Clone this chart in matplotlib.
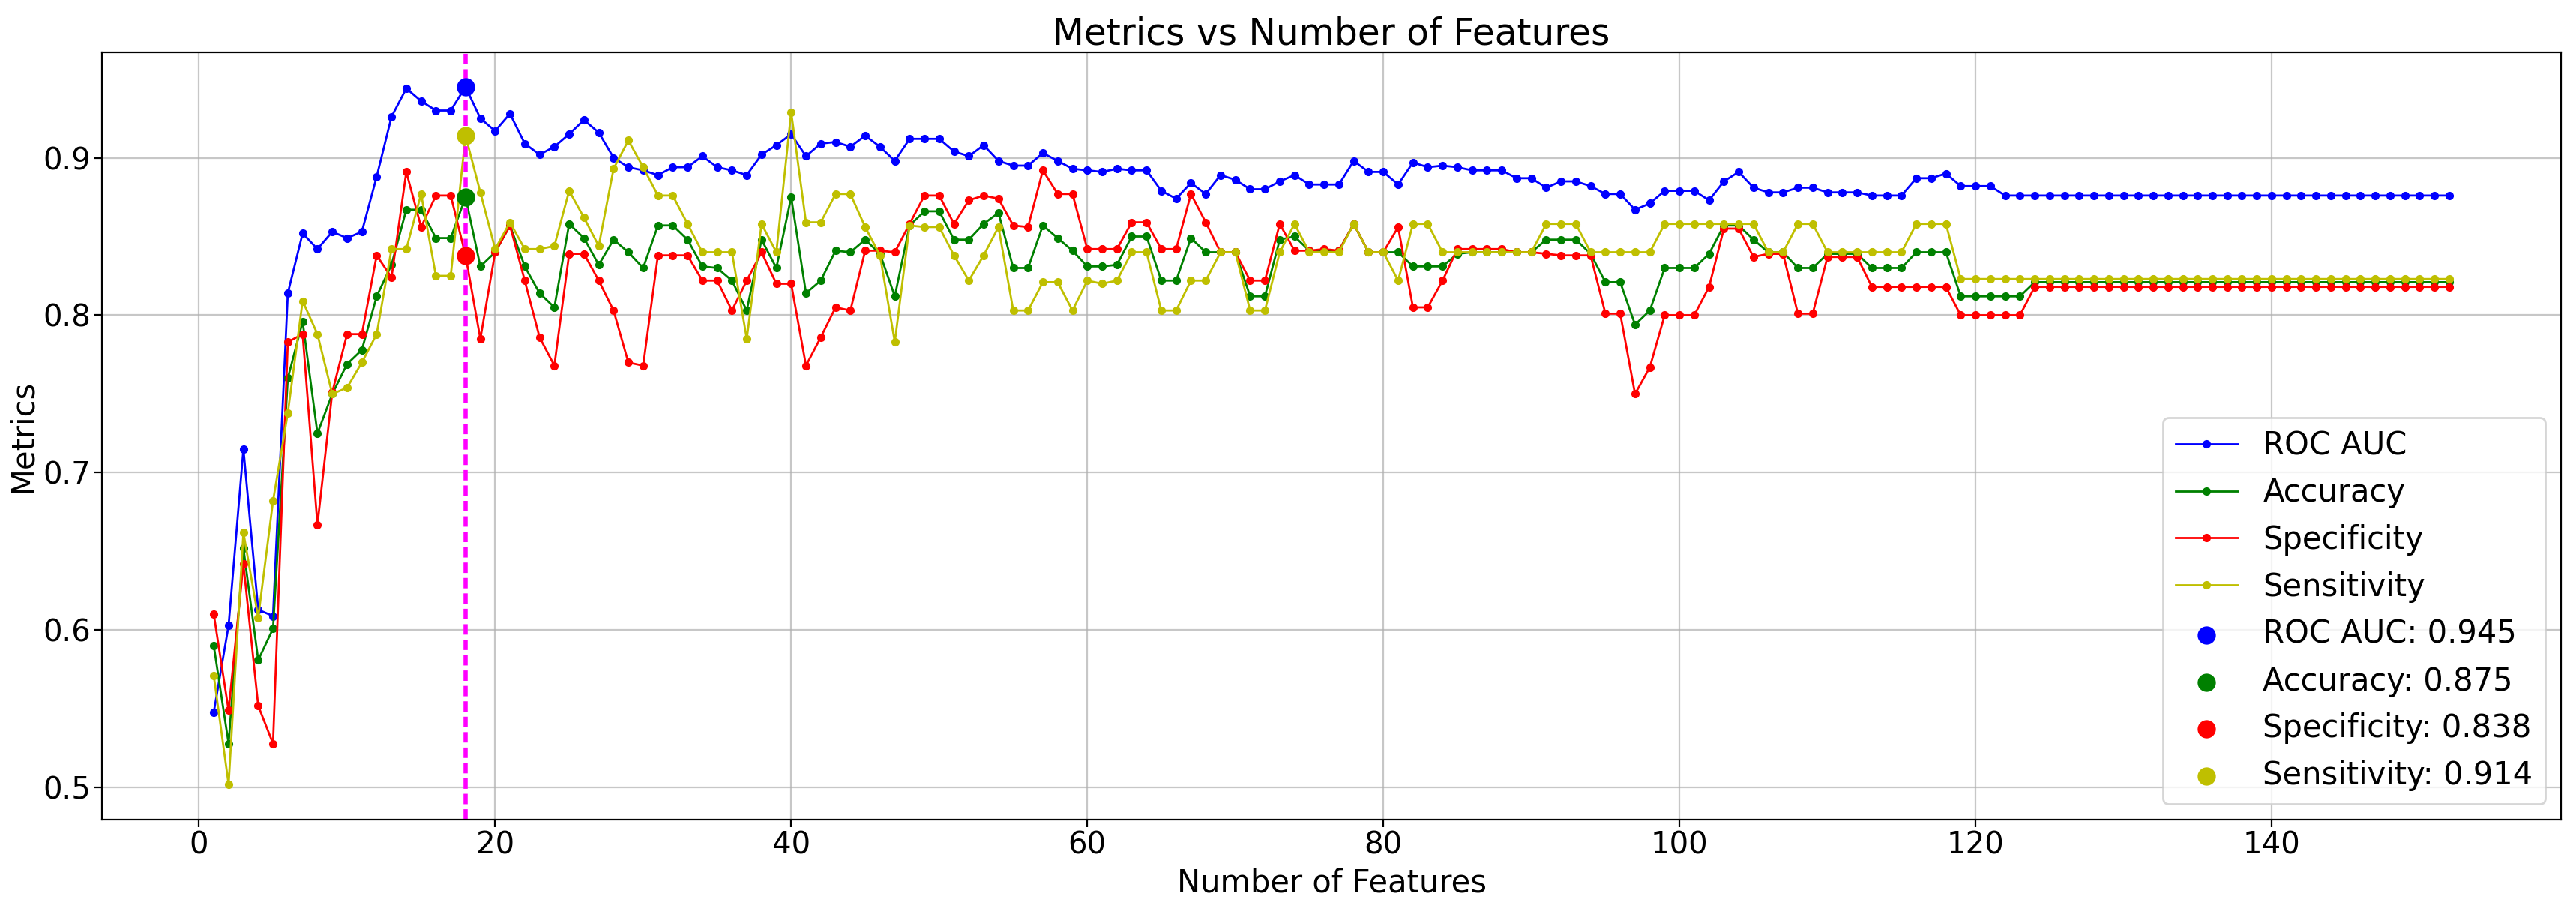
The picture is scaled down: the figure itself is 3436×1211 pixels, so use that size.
import numpy as np
import matplotlib
matplotlib.use("Agg")
from matplotlib import pyplot as plt

# values, feature counts 1..152
n_features = np.arange(1, 153)

roc_auc = [
    0.548, 0.603, 0.715, 0.613, 0.609, 0.814, 0.852, 0.842, 0.853, 0.849,
    0.853, 0.888, 0.926, 0.944, 0.936, 0.930, 0.930, 0.945, 0.925, 0.917,
    0.928, 0.909, 0.902, 0.907, 0.915, 0.924, 0.916, 0.900, 0.894, 0.892,
    0.889, 0.894, 0.894, 0.901, 0.894, 0.892, 0.889, 0.902, 0.908, 0.915,
    0.901, 0.909, 0.910, 0.907, 0.914, 0.907, 0.898, 0.912, 0.912, 0.912,
    0.904, 0.901, 0.908, 0.898, 0.895, 0.895, 0.903, 0.898, 0.893, 0.892,
    0.891, 0.893, 0.892, 0.892, 0.879, 0.874, 0.884, 0.877, 0.889, 0.886,
    0.880, 0.880, 0.885, 0.889, 0.883, 0.883, 0.883, 0.898, 0.891, 0.891,
    0.883, 0.897, 0.894, 0.895, 0.894, 0.892, 0.892, 0.892, 0.887, 0.887,
    0.881, 0.885, 0.885, 0.882, 0.877, 0.877, 0.867, 0.871, 0.879, 0.879,
    0.879, 0.873, 0.885, 0.891, 0.881, 0.878, 0.878, 0.881, 0.881, 0.878,
    0.878, 0.878, 0.876, 0.876, 0.876, 0.887, 0.887, 0.890, 0.882, 0.882,
    0.882, 0.876, 0.876, 0.876, 0.876, 0.876, 0.876, 0.876, 0.876, 0.876,
    0.876, 0.876, 0.876, 0.876, 0.876, 0.876, 0.876, 0.876, 0.876, 0.876,
    0.876, 0.876, 0.876, 0.876, 0.876, 0.876, 0.876, 0.876, 0.876, 0.876,
    0.876, 0.876,
]

accuracy = [
    0.590, 0.528, 0.652, 0.581, 0.601, 0.760, 0.796, 0.725, 0.750, 0.769,
    0.778, 0.812, 0.832, 0.867, 0.867, 0.849, 0.849, 0.875, 0.831, 0.840,
    0.857, 0.831, 0.814, 0.805, 0.858, 0.849, 0.832, 0.848, 0.840, 0.830,
    0.857, 0.857, 0.848, 0.831, 0.830, 0.822, 0.803, 0.848, 0.830, 0.875,
    0.814, 0.822, 0.841, 0.840, 0.848, 0.839, 0.812, 0.857, 0.866, 0.866,
    0.848, 0.848, 0.858, 0.865, 0.830, 0.830, 0.857, 0.849, 0.841, 0.831,
    0.831, 0.832, 0.850, 0.850, 0.822, 0.822, 0.849, 0.840, 0.840, 0.840,
    0.812, 0.812, 0.848, 0.850, 0.841, 0.841, 0.841, 0.858, 0.840, 0.840,
    0.840, 0.831, 0.831, 0.831, 0.839, 0.840, 0.840, 0.840, 0.840, 0.840,
    0.848, 0.848, 0.848, 0.839, 0.821, 0.821, 0.794, 0.803, 0.830, 0.830,
    0.830, 0.839, 0.857, 0.857, 0.848, 0.840, 0.840, 0.830, 0.830, 0.839,
    0.839, 0.839, 0.830, 0.830, 0.830, 0.840, 0.840, 0.840, 0.812, 0.812,
    0.812, 0.812, 0.812, 0.821, 0.821, 0.821, 0.821, 0.821, 0.821, 0.821,
    0.821, 0.821, 0.821, 0.821, 0.821, 0.821, 0.821, 0.821, 0.821, 0.821,
    0.821, 0.821, 0.821, 0.821, 0.821, 0.821, 0.821, 0.821, 0.821, 0.821,
    0.821, 0.821,
]

specificity = [
    0.610, 0.549, 0.642, 0.552, 0.528, 0.783, 0.788, 0.667, 0.751, 0.788,
    0.788, 0.838, 0.824, 0.891, 0.856, 0.876, 0.876, 0.838, 0.785, 0.840,
    0.857, 0.822, 0.786, 0.768, 0.839, 0.839, 0.822, 0.803, 0.770, 0.768,
    0.838, 0.838, 0.838, 0.822, 0.822, 0.803, 0.822, 0.840, 0.820, 0.820,
    0.768, 0.786, 0.805, 0.803, 0.841, 0.841, 0.840, 0.858, 0.876, 0.876,
    0.858, 0.873, 0.876, 0.874, 0.857, 0.856, 0.892, 0.877, 0.877, 0.842,
    0.842, 0.842, 0.859, 0.859, 0.842, 0.842, 0.877, 0.859, 0.840, 0.840,
    0.822, 0.822, 0.858, 0.841, 0.841, 0.842, 0.841, 0.858, 0.840, 0.840,
    0.856, 0.805, 0.805, 0.822, 0.842, 0.842, 0.842, 0.842, 0.840, 0.840,
    0.839, 0.838, 0.838, 0.838, 0.801, 0.801, 0.750, 0.767, 0.800, 0.800,
    0.800, 0.818, 0.855, 0.855, 0.837, 0.839, 0.839, 0.801, 0.801, 0.837,
    0.837, 0.837, 0.818, 0.818, 0.818, 0.818, 0.818, 0.818, 0.800, 0.800,
    0.800, 0.800, 0.800, 0.818, 0.818, 0.818, 0.818, 0.818, 0.818, 0.818,
    0.818, 0.818, 0.818, 0.818, 0.818, 0.818, 0.818, 0.818, 0.818, 0.818,
    0.818, 0.818, 0.818, 0.818, 0.818, 0.818, 0.818, 0.818, 0.818, 0.818,
    0.818, 0.818,
]

sensitivity = [
    0.571, 0.502, 0.662, 0.608, 0.682, 0.738, 0.809, 0.788, 0.750, 0.754,
    0.770, 0.788, 0.842, 0.842, 0.877, 0.825, 0.825, 0.914, 0.878, 0.842,
    0.859, 0.842, 0.842, 0.844, 0.879, 0.862, 0.844, 0.893, 0.911, 0.894,
    0.876, 0.876, 0.858, 0.840, 0.840, 0.840, 0.785, 0.858, 0.840, 0.929,
    0.859, 0.859, 0.877, 0.877, 0.856, 0.838, 0.783, 0.857, 0.856, 0.856,
    0.838, 0.822, 0.838, 0.856, 0.803, 0.803, 0.821, 0.821, 0.803, 0.822,
    0.820, 0.822, 0.840, 0.840, 0.803, 0.803, 0.822, 0.822, 0.840, 0.840,
    0.803, 0.803, 0.840, 0.858, 0.840, 0.840, 0.840, 0.858, 0.840, 0.840,
    0.822, 0.858, 0.858, 0.840, 0.840, 0.840, 0.840, 0.840, 0.840, 0.840,
    0.858, 0.858, 0.858, 0.840, 0.840, 0.840, 0.840, 0.840, 0.858, 0.858,
    0.858, 0.858, 0.858, 0.858, 0.858, 0.840, 0.840, 0.858, 0.858, 0.840,
    0.840, 0.840, 0.840, 0.840, 0.840, 0.858, 0.858, 0.858, 0.823, 0.823,
    0.823, 0.823, 0.823, 0.823, 0.823, 0.823, 0.823, 0.823, 0.823, 0.823,
    0.823, 0.823, 0.823, 0.823, 0.823, 0.823, 0.823, 0.823, 0.823, 0.823,
    0.823, 0.823, 0.823, 0.823, 0.823, 0.823, 0.823, 0.823, 0.823, 0.823,
    0.823, 0.823,
]

best_n = 18
best_vals = {"ROC AUC": 0.945, "Accuracy": 0.875, "Specificity": 0.838, "Sensitivity": 0.914}

series = [("ROC AUC", roc_auc, "b"), ("Accuracy", accuracy, "g"),
          ("Specificity", specificity, "r"), ("Sensitivity", sensitivity, "y")]

fig, ax = plt.subplots(figsize=(17.185, 6.055), dpi=200)
fig.subplots_adjust(left=0.0396, right=0.9939, top=0.9426, bottom=0.0977)

for name, vals, c in series:
    ax.plot(n_features, vals, color=c, marker="o", markersize=3, linewidth=1, label=name)

ax.axvline(best_n, color="magenta", linestyle=(0, (2.5, 1.2)), linewidth=2)

for name, vals, c in series:
    ax.scatter(best_n, best_vals[name], color=c, s=60, zorder=5,
               label=f"{name}: {best_vals[name]:.3f}")

ax.set_title("Metrics vs Number of Features", fontsize=17.5, pad=3)
ax.set_xlabel("Number of Features", fontsize=15, labelpad=3)
ax.set_ylabel("Metrics", fontsize=15, labelpad=2)
ax.tick_params(labelsize=14.5, pad=2)
ax.grid(True, alpha=0.7)
ax.legend(loc="lower right", fontsize=15)

fig.savefig("out.png", dpi=200)
